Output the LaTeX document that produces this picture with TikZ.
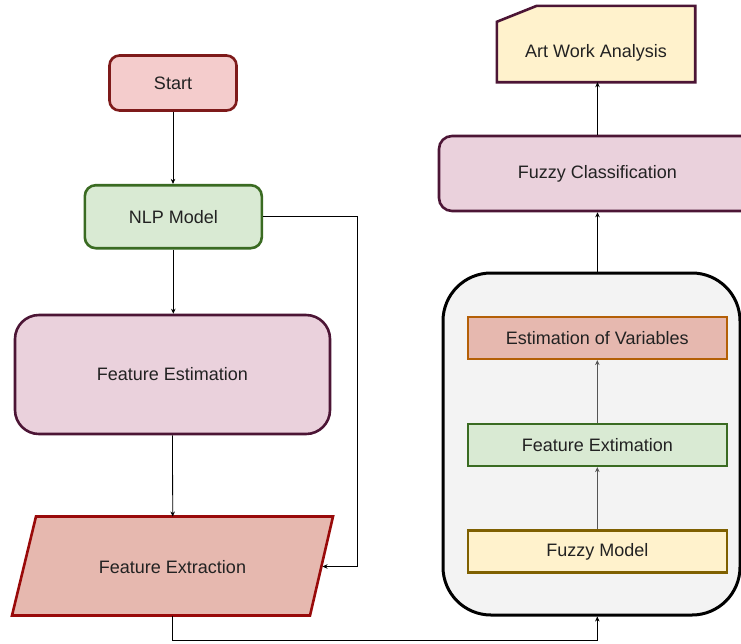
\documentclass[tikz,border=0pt]{standalone}
\usepackage{fontspec}
\setmainfont{Liberation Sans}
\usetikzlibrary{arrows.meta,calc}

\definecolor{txt}{HTML}{222222}
\definecolor{startfill}{HTML}{F4CCCC}
\definecolor{startline}{HTML}{7E1A1A}
\definecolor{greenfill}{HTML}{D9EAD3}
\definecolor{greenline}{HTML}{3A6B22}
\definecolor{mauvefill}{HTML}{EAD1DC}
\definecolor{mauveline}{HTML}{4C1535}
\definecolor{rosefill}{HTML}{E6B8AF}
\definecolor{redline}{HTML}{990A0A}
\definecolor{orangeline}{HTML}{B45F06}
\definecolor{creamfill}{HTML}{FFF2CC}
\definecolor{oliveline}{HTML}{7F6000}
\definecolor{groupfill}{HTML}{F3F3F3}
\definecolor{innerconn}{HTML}{555555}

\tikzset{
  box/.style={rectangle, inner sep=0pt, text=txt,
    font=\fontsize{18}{21}\selectfont, align=center},
  mainbox/.style={box, line width=2.6pt},
  innerbox/.style={box, line width=2.2pt, minimum width=259pt, minimum height=42pt},
  conn/.style={draw=black, line width=0.8pt, -{Stealth[length=5pt,width=4.5pt]}},
  iconn/.style={conn, draw=innerconn},
}

\begin{document}
\begin{tikzpicture}[x=1pt,y=-1pt]
\clip (0,0) rectangle (741,643);
\fill[white] (0,0) rectangle (741,643);

% left column
\node[mainbox, fill=startfill, draw=startline, rounded corners=10pt,
      minimum width=127pt, minimum height=55pt] (start) at (173,83) {Start};
\node[mainbox, fill=greenfill, draw=greenline, rounded corners=11pt,
      minimum width=177pt, minimum height=63pt] (nlp) at (173.3,216.7) {NLP Model};
\node[mainbox, fill=mauvefill, draw=mauveline, rounded corners=24pt,
      minimum width=315pt, minimum height=119pt] (featest) at (172.5,374.5) {Feature Estimation};

% parallelogram for feature extraction
\coordinate (pTL) at (36,516.5);
\coordinate (pTR) at (333,516.5);
\coordinate (pBR) at (310,615.5);
\coordinate (pBL) at (12,615.5);
\filldraw[fill=rosefill, draw=redline, line width=2.6pt, line join=miter]
  (pTL) -- (pTR) -- (pBR) -- (pBL) -- cycle;
\node[box] (fextr) at (172.5,567) {Feature Extraction};
\coordinate (fxtop) at (172.7,516.5);
\coordinate (fxbot) at (172.7,615.5);
\coordinate (fxright) at (322.5,566.5);

% right column: grouped fuzzy stage
\node[rectangle, fill=groupfill, draw=black, line width=3pt, rounded corners=48pt,
      minimum width=297pt, minimum height=342pt] (group) at (591.5,444) {};
\node[innerbox, fill=rosefill, draw=orangeline] (estvar) at (597.3,338) {Estimation of Variables};
\node[innerbox, fill=greenfill, draw=greenline] (featext) at (597.3,445) {Feature Extimation};
\node[innerbox, fill=creamfill, draw=oliveline] (fuzzymodel) at (597.3,551.5) {Fuzzy Model};

\node[mainbox, fill=mauvefill, draw=mauveline, rounded corners=13pt,
      minimum width=317pt, minimum height=75pt] (fuzzyclass) at (597.5,173.5) {Fuzzy Classification};

% card-shaped output box
\node[rectangle, inner sep=0pt, minimum width=198pt, minimum height=76pt] (art) at (596,44) {};
\filldraw[fill=creamfill, draw=mauveline, line width=2.6pt, line join=miter]
  (art.south west) -- (art.south east) -- (art.north east)
  -- ($(art.north west)+(40,0)$) -- ($(art.north west)+(0,16)$) -- cycle;
\node[box] (arttext) at (596,52.5) {Art Work Analysis};

% connectors
\draw[conn] (start.south) -- (start.south |- nlp.north);
\draw[conn] (nlp.south) -- (nlp.south |- featest.north);
\draw[conn] (featest.south) -- (fxtop);
\coordinate (loopturn) at (357.7,216.7);
\draw[conn] (nlp.east) -- (loopturn) |- (fxright);
\coordinate (bottomturn) at (597.3,640);
\draw[conn] (fxbot) |- (bottomturn) -- (fuzzymodel.south |- group.south);

\draw[iconn] (fuzzymodel.north) -- (featext.south);
\draw[iconn] (featext.north) -- (estvar.south);

\draw[conn] (fuzzyclass.south |- group.north) -- (fuzzyclass.south);
\draw[conn] (fuzzyclass.north) -- (fuzzyclass.north |- art.south);
\end{tikzpicture}
\end{document}
